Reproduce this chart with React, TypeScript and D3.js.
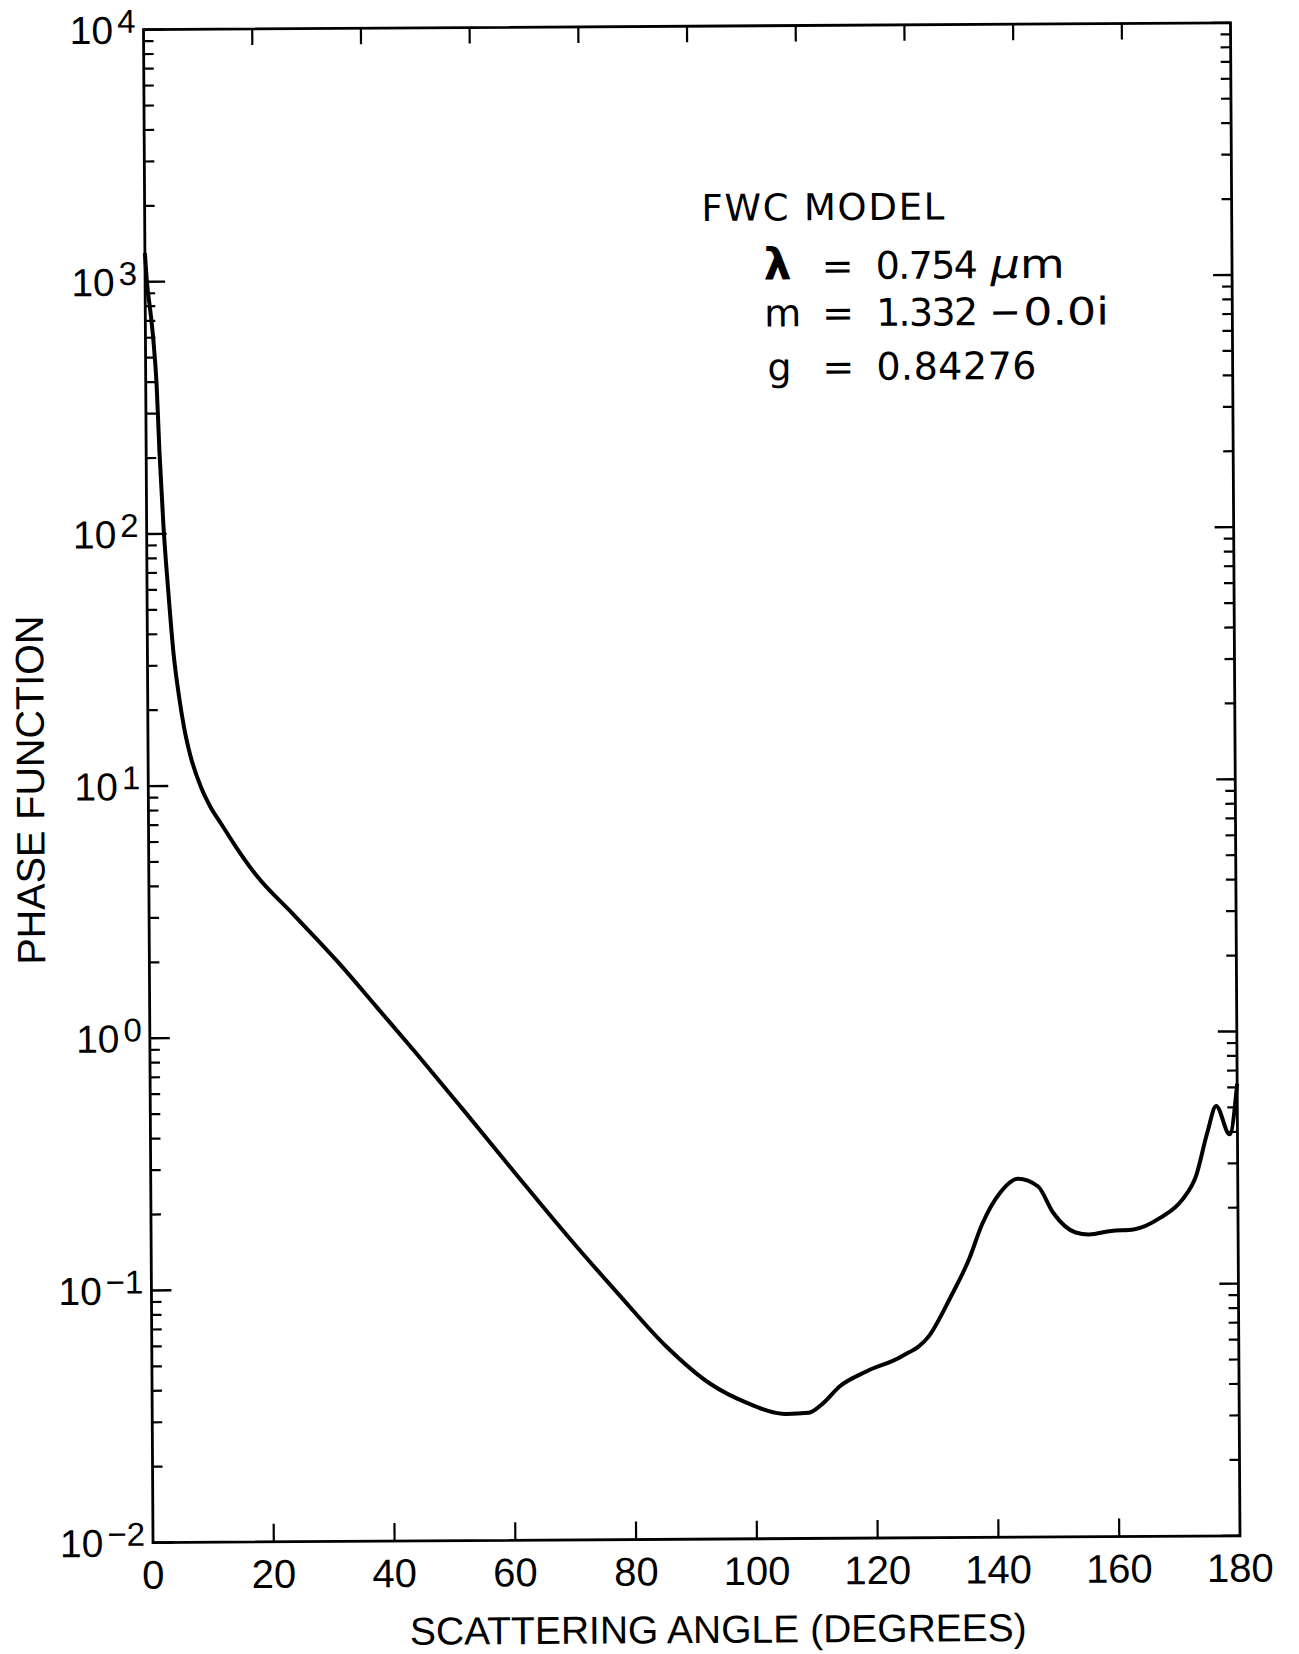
import React from "react";
import * as d3 from "d3";

// ---- data ----
const angleDeg: number[] = [
  0, 0.3, 0.8, 1.3, 1.8, 2.2, 2.8, 3.5, 4.3, 5.15, 6.0, 7.0, 8.74, 10.3, 12.0,
  14.5, 17.9, 23.8, 31.1, 37.7, 44.3, 51.6, 60.4, 69.2, 77.3, 85.2, 92.5, 98.4,
  105.0, 108.7, 110.9, 113.9, 118.3, 124.2, 128.7, 132.4, 135.4, 137.6, 140.6,
  143.6, 146.9, 149.4, 153.1, 155.3, 159.0, 162.7, 167.1, 170.8, 173.1, 175.0,
  176.5, 178.7, 180,
];
const phaseValue: number[] = [
  1300, 1000, 780, 590, 390, 212, 106, 60, 34, 23, 17, 13.2, 9.86, 8.22, 7.08,
  5.69, 4.37, 3.09, 2.0, 1.303, 0.847, 0.519, 0.285, 0.158, 0.0944, 0.0582,
  0.0412, 0.0347, 0.0312, 0.0315, 0.034, 0.0401, 0.0458, 0.0525, 0.063, 0.0906,
  0.1265, 0.174, 0.232, 0.264, 0.246, 0.193, 0.161, 0.158, 0.163, 0.165, 0.183,
  0.216, 0.268, 0.397, 0.507, 0.391, 0.62,
];
const xTickValues: number[] = [0, 20, 40, 60, 80, 100, 120, 140, 160, 180];
const topTickValues: number[] = [18, 36, 54, 72, 90, 108, 126, 144, 162];
const yExponents: number[] = [4, 3, 2, 1, 0, -1, -2];
const xTitle = "SCATTERING ANGLE (DEGREES)";
const yTitle = "PHASE FUNCTION";
const noteTitle = "FWC MODEL";
const noteLines: string[][] = [
  ["λ", "=", "0.754", "μm"],
  ["m", "=", "1.332", "−", "0.0i"],
  ["g", "=", "0.84276"],
];

const W = 1299;
const H = 1654;
const M = { left: 148.25, right: 1235.25, top: 26.2, bottom: 1539.2 };
const FONT = "'Liberation Sans', Arial, Helvetica, sans-serif";
const NOTE_FONT = "'DejaVu Sans', Verdana, sans-serif";

export default function App() {
  const x = d3.scaleLinear().domain([0, 180]).range([M.left, M.right]);
  const y = d3.scaleLog().domain([0.01, 10000]).range([M.bottom, M.top]);
  const pts: [number, number][] = angleDeg.map((a, i) => [a, phaseValue[i]]);
  const line = d3
    .line<[number, number]>()
    .x((d) => x(d[0]))
    .y((d) => y(d[1]))
    .curve(d3.curveMonotoneX);

  const minor: number[] = [];
  for (let e = -2; e < 4; e++) for (let k = 2; k <= 9; k++) minor.push(k * Math.pow(10, e));

  const cx = (M.left + M.right) / 2;
  const cy = (M.top + M.bottom) / 2;

  // annotation layout: start x and target width of each piece
  const pieceX: number[][] = [
    [767, 825, 879, 994],
    [767, 825, 879, 992, 1026],
    [770, 825, 879],
  ];
  const pieceW: (number | null)[][] = [
    [null, null, 102, 74],
    [null, null, 102, null, 86],
    [null, null, 160],
  ];
  const lineY = [280, 327, 381];

  return (
    <svg
      width={W}
      height={H}
      viewBox={`0 0 ${W} ${H}`}
      style={{ position: "absolute", left: 0, top: 0, background: "#fff", display: "block" }}
      fontFamily={FONT}
    >
      <rect x={0} y={0} width={W} height={H} fill="#fff" />
      <g transform={`rotate(-0.36 ${cx} ${cy})`}>
        {/* frame */}
        <rect
          x={M.left}
          y={M.top}
          width={M.right - M.left}
          height={M.bottom - M.top}
          fill="none"
          stroke="#000"
          strokeWidth={2.8}
        />
        {/* bottom ticks */}
        {xTickValues.slice(1, -1).map((v) => (
          <line key={"bt" + v} x1={x(v)} x2={x(v)} y1={M.bottom} y2={M.bottom - 18} stroke="#000" strokeWidth={2.2} />
        ))}
        {/* top ticks */}
        {topTickValues.map((v) => (
          <line key={"tt" + v} x1={x(v)} x2={x(v)} y1={M.top} y2={M.top + 16} stroke="#000" strokeWidth={2.2} />
        ))}
        {/* y major ticks */}
        {yExponents.map((e) => {
          const yy = y(Math.pow(10, e));
          return (
            <g key={"ym" + e}>
              <line x1={M.left} x2={M.left + 20} y1={yy} y2={yy} stroke="#000" strokeWidth={2.4} />
              <line x1={M.right} x2={M.right - 19} y1={yy} y2={yy} stroke="#000" strokeWidth={2.4} />
            </g>
          );
        })}
        {/* y minor ticks */}
        {minor.map((v) => {
          const yy = y(v);
          return (
            <g key={"yn" + v}>
              <line x1={M.left} x2={M.left + 10} y1={yy} y2={yy} stroke="#000" strokeWidth={2.2} />
              <line x1={M.right} x2={M.right - 10} y1={yy} y2={yy} stroke="#000" strokeWidth={2.2} />
            </g>
          );
        })}
        {/* y tick labels */}
        {yExponents.map((e) => (
          <text
            key={"yl" + e}
            x={M.left - 8}
            y={y(Math.pow(10, e)) + 14}
            textAnchor="end"
            fontSize={39}
            fill="#000"
          >
            10
            <tspan dx={4} dy={-11} fontSize={33}>
              {e < 0 ? "−" + Math.abs(e) : String(e)}
            </tspan>
          </text>
        ))}
        {/* x tick labels */}
        {xTickValues.map((v) => (
          <text key={"xl" + v} x={x(v)} y={M.bottom + 46} textAnchor="middle" fontSize={40} fill="#000">
            {v}
          </text>
        ))}
        {/* axis titles */}
        <text x={713} y={1643} textAnchor="middle" fontSize={39} fill="#000">
          {xTitle}
        </text>
        <text
          transform={`translate(44, 786) rotate(-90)`}
          textAnchor="middle"
          fontSize={39.5}
          fill="#000"
        >
          {yTitle}
        </text>
        {/* annotation */}
        <text x={705} y={221} fontSize={37} fill="#000" fontFamily={NOTE_FONT} textLength={243} lengthAdjust="spacing">
          {noteTitle}
        </text>
        {noteLines.map((pieces, li) =>
          pieces.map((p, pi) => {
            const w = pieceW[li][pi];
            const key = "n" + li + "_" + pi;
            if (p === "μm") {
              return (
                <text
                  key={key}
                  x={pieceX[li][pi]}
                  y={lineY[li]}
                  fontSize={40}
                  fill="#000"
                  fontFamily={NOTE_FONT}
                  textLength={w || undefined}
                  lengthAdjust="spacingAndGlyphs"
                >
                  <tspan fontStyle="italic">μ</tspan>
                  <tspan>m</tspan>
                </text>
              );
            }
            return (
              <text
                key={key}
                x={pieceX[li][pi]}
                y={lineY[li]}
                fontSize={p === "λ" ? 44 : 38}
                fontWeight={p === "λ" ? "bold" : "normal"}
                fill="#000"
                fontFamily={NOTE_FONT}
                textLength={w || undefined}
                lengthAdjust={p === "0.0i" ? "spacingAndGlyphs" : "spacing"}
              >
                {p}
              </text>
            );
          })
        )}
        {/* curve */}
        <path d={line(pts) || ""} fill="none" stroke="#000" strokeWidth={4} strokeLinejoin="round" />
      </g>
    </svg>
  );
}
